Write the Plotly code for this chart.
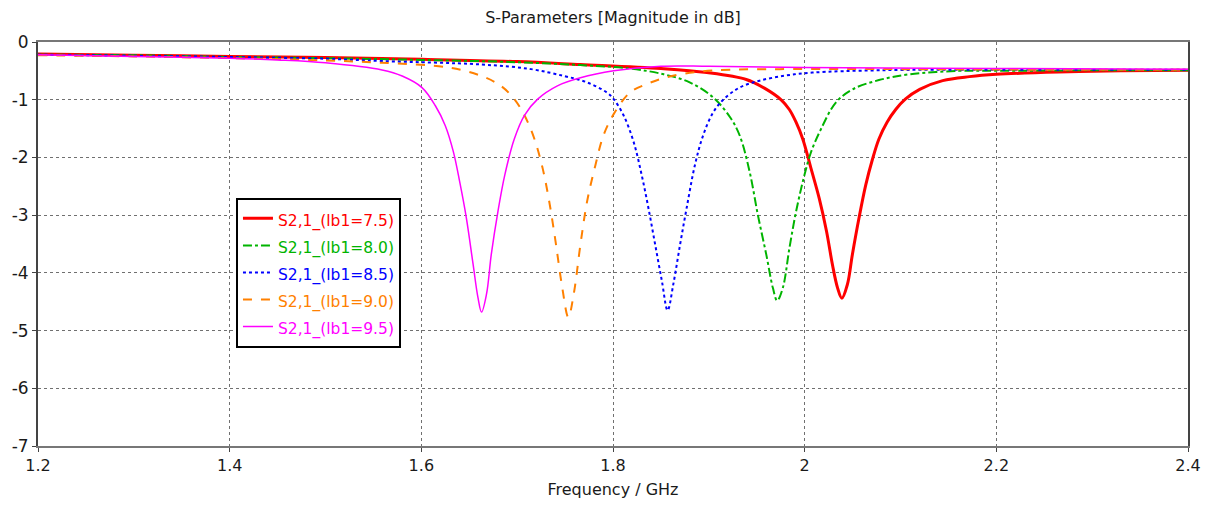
import plotly.graph_objects as go

# ---- data ----
f_75 = [1.2, 1.3, 1.4, 1.5, 1.6, 1.7, 1.766, 1.85, 1.898, 1.939, 1.958, 1.976, 1.984, 1.991, 1.998,
        2.0066, 2.0152, 2.0228, 2.029, 2.0343, 2.0388, 2.0446, 2.0498, 2.0567, 2.0637, 2.0706,
        2.0775, 2.086, 2.095, 2.105, 2.12, 2.144, 2.172, 2.2, 2.265, 2.33, 2.4]
s_75 = [-0.21, -0.23, -0.25, -0.27, -0.30, -0.34, -0.39, -0.46, -0.53, -0.65, -0.80, -1.01, -1.17,
        -1.39, -1.68, -2.19, -2.71, -3.28, -3.86, -4.26, -4.44, -4.20, -3.68, -3.05, -2.48, -2.04,
        -1.68, -1.39, -1.17, -0.99, -0.82, -0.67, -0.60, -0.56, -0.52, -0.50, -0.49]

f_80 = [1.2, 1.3, 1.4, 1.5, 1.6, 1.7, 1.766, 1.818, 1.853, 1.88, 1.9045, 1.922, 1.9322, 1.9426,
        1.9512, 1.9599, 1.9668, 1.9713, 1.9772, 1.9841, 1.991, 1.9997, 2.0066, 2.017, 2.0325,
        2.05, 2.0775, 2.1094, 2.1613, 2.2, 2.3, 2.4]
s_80 = [-0.22, -0.23, -0.26, -0.28, -0.31, -0.35, -0.40, -0.46, -0.56, -0.70, -0.96, -1.30, -1.62,
        -2.25, -3.00, -3.68, -4.26, -4.48, -4.26, -3.57, -2.94, -2.31, -1.91, -1.51, -1.05,
        -0.82, -0.66, -0.56, -0.50, -0.50, -0.49, -0.49]

f_85 = [1.2, 1.3, 1.4, 1.5, 1.559, 1.6628, 1.7145, 1.749, 1.773, 1.794, 1.8007, 1.811, 1.8215,
        1.83, 1.837, 1.844, 1.851, 1.857, 1.863, 1.87, 1.8768, 1.8855, 1.894, 1.9045, 1.915,
        1.932, 1.953, 1.9806, 2.008, 2.0775, 2.2, 2.4]
s_85 = [-0.22, -0.24, -0.26, -0.29, -0.33, -0.39, -0.47, -0.59, -0.70, -0.88, -0.99, -1.27, -1.73,
        -2.31, -2.88, -3.51, -4.14, -4.65, -4.19, -3.51, -2.88, -2.13, -1.62, -1.22, -1.00,
        -0.79, -0.67, -0.58, -0.53, -0.49, -0.48, -0.48]

f_90 = [1.2, 1.3, 1.4, 1.5, 1.559, 1.628, 1.663, 1.683, 1.697, 1.7076, 1.718, 1.7266, 1.7334,
        1.74, 1.747, 1.7534, 1.759, 1.766, 1.773, 1.7817, 1.79, 1.8007, 1.818, 1.835, 1.856,
        1.887, 1.922, 1.974, 2.1, 2.25, 2.4]
s_90 = [-0.23, -0.25, -0.28, -0.32, -0.36, -0.44, -0.59, -0.76, -0.99, -1.27, -1.68, -2.19, -2.76,
        -3.45, -4.25, -4.77, -4.37, -3.51, -2.76, -2.13, -1.62, -1.25, -0.87, -0.73, -0.61,
        -0.52, -0.48, -0.47, -0.47, -0.48, -0.48]

f_95 = [1.2, 1.3, 1.4, 1.45, 1.5, 1.559, 1.58, 1.6007, 1.6145, 1.625, 1.6334, 1.64, 1.647, 1.654,
        1.659, 1.6628, 1.668, 1.673, 1.68, 1.687, 1.697, 1.7076, 1.7214, 1.742, 1.766, 1.8007,
        1.85, 1.9, 2.0, 2.2, 2.4]
s_95 = [-0.22, -0.25, -0.28, -0.31, -0.36, -0.485, -0.59, -0.79, -1.10, -1.45, -1.90, -2.42, -3.05,
        -3.85, -4.42, -4.68, -4.37, -3.68, -2.93, -2.31, -1.68, -1.27, -0.99, -0.76, -0.62,
        -0.50, -0.42, -0.42, -0.44, -0.46, -0.47]

names = ["S2,1_(lb1=7.5)", "S2,1_(lb1=8.0)", "S2,1_(lb1=8.5)", "S2,1_(lb1=9.0)", "S2,1_(lb1=9.5)"]
x_ticks = [1.2, 1.4, 1.6, 1.8, 2.0, 2.2, 2.4]
x_tick_text = ["1.2", "1.4", "1.6", "1.8", "2", "2.2", "2.4"]
y_ticks = [0, -1, -2, -3, -4, -5, -6, -7]
y_tick_text = ["0", "-1", "-2", "-3", "-4", "-5", "-6", "-7"]

series = [(f_75, s_75), (f_80, s_80), (f_85, s_85), (f_90, s_90), (f_95, s_95)]
colors = ["#FF0000", "#00B400", "#0000FF", "#FF8000", "#FF00FF"]
dashes = ["solid", "dashdot", "dot", "dash", "solid"]
widths = [3, 2, 2, 2, 1.5]

FONT = "DejaVu Sans"
TXT = "#1a1a1a"

fig = go.Figure()
for (fx, sy), nm, c, d, w in zip(series, names, colors, dashes, widths):
    fig.add_trace(go.Scatter(
        x=fx, y=sy, mode="lines",
        name=f"<span style='color:{c};font-size:15.5px'>{nm}</span>",
        line=dict(color=c, dash=d, width=w, shape="spline", smoothing=1.0),
    ))

fig.update_layout(
    width=1213, height=508,
    margin=dict(l=34, r=23, t=42, b=59),
    paper_bgcolor="white", plot_bgcolor="white",
    font=dict(family=FONT, size=16, color=TXT),
    title=dict(text="S-Parameters [Magnitude in dB]", x=0.5, xref="paper",
               y=1 - 17 / 508, yanchor="middle", font=dict(family=FONT, size=16, color=TXT)),
    showlegend=True,
    legend=dict(x=(233 - 34) / 1156, y=1 - (199 - 42) / 407, xanchor="left", yanchor="top",
                bgcolor="white", bordercolor="black", borderwidth=2,
                font=dict(family=FONT, size=18.5), itemwidth=30, tracegroupgap=0),
)
fig.update_xaxes(
    range=[1.2, 2.4], tickvals=x_ticks, ticktext=x_tick_text,
    showgrid=True, gridcolor="#707070", griddash="dot", gridwidth=1,
    showline=True, linecolor="#777777", linewidth=2, mirror=True,
    ticks="outside", ticklen=4, tickcolor="#444444", zeroline=False,
    title=dict(text="Frequency / GHz", standoff=10, font=dict(family=FONT, size=16, color=TXT)),
    tickfont=dict(family=FONT, size=16, color=TXT),
)
fig.update_yaxes(
    range=[-7, 0], tickvals=y_ticks, ticktext=y_tick_text,
    showgrid=True, gridcolor="#707070", griddash="dot", gridwidth=1,
    showline=True, linecolor="#444444", linewidth=2, mirror=True,
    ticks="outside", ticklen=4, tickcolor="#444444", zeroline=False,
    tickfont=dict(family=FONT, size=17, color=TXT),
)

fig.write_html("out.html")
